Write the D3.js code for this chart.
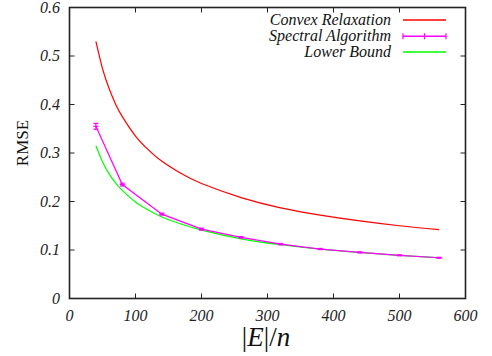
<!DOCTYPE html>
<html>
<head>
<meta charset="utf-8">
<script src="https://cdn.jsdelivr.net/npm/d3@7"></script>
<style>
  html, body { margin: 0; padding: 0; background: #fff; }
  svg { display: block; }
  svg text { font-family: "Liberation Serif", serif; }
</style>
</head>
<body>
<div id="chart"></div>
<script>
// Values
const curveX = [40, 50, 60, 70, 80, 100, 120, 140, 170, 200, 260, 320, 380, 440, 500, 560];
const convexRelaxation = [0.530, 0.474, 0.433, 0.400, 0.375, 0.335, 0.306, 0.283, 0.257, 0.237, 0.208, 0.187, 0.172, 0.160, 0.150, 0.142];
const lowerBound = [0.315, 0.282, 0.257, 0.238, 0.223, 0.199, 0.182, 0.168, 0.153, 0.141, 0.123, 0.111, 0.102, 0.095, 0.089, 0.084];

const spectralX = [40, 80, 140, 200, 260, 320, 380, 440, 500, 560];
const spectralAlgorithm = [0.355, 0.235, 0.174, 0.143, 0.126, 0.112, 0.102, 0.095, 0.089, 0.084];
const spectralErr = [0.006, 0.003, 0.002, 0.002, 0.0015, 0.0015, 0.0012, 0.0012, 0.001, 0.001];

const xTicks = [0, 100, 200, 300, 400, 500, 600];
const yTicks = [0, 0.1, 0.2, 0.3, 0.4, 0.5, 0.6];
const seriesNames = ["Convex Relaxation", "Spectral Algorithm", "Lower Bound"];

const width = 492;
const height = 356;

const plotLeft = 69.5, plotRight = 465.5, plotTop = 7.5, plotBottom = 298.5;

const red = "#ff0000";
const magenta = "#ff00ff";
const green = "#00ff00";
const frameColor = "#222";

const svg = d3.select("#chart")
  .append("svg")
  .attr("width", width)
  .attr("height", height);

const x = d3.scaleLinear().domain([0, 600]).range([plotLeft, plotRight]);
const y = d3.scaleLinear().domain([0, 0.6]).range([plotBottom, plotTop]);

// Tick marks (inward, mirrored on top/right like gnuplot)
const tickLen = 5;
xTicks.forEach(t => {
  if (t === 0 || t === 600) return;
  svg.append("line")
    .attr("x1", x(t)).attr("x2", x(t))
    .attr("y1", plotBottom).attr("y2", plotBottom - tickLen)
    .attr("stroke", frameColor).attr("stroke-width", 1);
  svg.append("line")
    .attr("x1", x(t)).attr("x2", x(t))
    .attr("y1", plotTop).attr("y2", plotTop + tickLen)
    .attr("stroke", frameColor).attr("stroke-width", 1);
});
yTicks.forEach(t => {
  if (t === 0 || t === 0.6) return;
  svg.append("line")
    .attr("x1", plotLeft).attr("x2", plotLeft + tickLen)
    .attr("y1", y(t)).attr("y2", y(t))
    .attr("stroke", frameColor).attr("stroke-width", 1);
  svg.append("line")
    .attr("x1", plotRight).attr("x2", plotRight - tickLen)
    .attr("y1", y(t)).attr("y2", y(t))
    .attr("stroke", frameColor).attr("stroke-width", 1);
});

// Frame
svg.append("rect")
  .attr("x", plotLeft).attr("y", plotTop)
  .attr("width", plotRight - plotLeft).attr("height", plotBottom - plotTop)
  .attr("fill", "none")
  .attr("stroke", frameColor)
  .attr("stroke-width", 1.6);

// Tick labels
xTicks.forEach(t => {
  svg.append("text")
    .attr("x", x(t))
    .attr("y", 321)
    .attr("text-anchor", "middle")
    .attr("font-style", "italic")
    .attr("font-size", 16)
    .attr("fill", "#222")
    .text(t);
});
yTicks.forEach(t => {
  svg.append("text")
    .attr("x", 60)
    .attr("y", y(t) + 5)
    .attr("text-anchor", "end")
    .attr("font-style", "italic")
    .attr("font-size", 16)
    .attr("fill", "#222")
    .text(t === 0 ? "0" : t.toFixed(1));
});

// Axis titles
svg.append("text")
  .attr("transform", "translate(28,143) rotate(-90)")
  .attr("text-anchor", "middle")
  .attr("font-size", 17)
  .attr("fill", "#111")
  .text("RMSE");

const xLabel = svg.append("text")
  .attr("x", 266)
  .attr("y", 346)
  .attr("text-anchor", "middle")
  .attr("font-size", 27)
  .attr("fill", "#111");
xLabel.append("tspan").text("|");
xLabel.append("tspan").attr("font-style", "italic").text("E");
xLabel.append("tspan").text("|/");
xLabel.append("tspan").attr("font-style", "italic").text("n");

// Series
const line = d3.line()
  .x(d => x(d[0]))
  .y(d => y(d[1]));

svg.append("path")
  .datum(curveX.map((v, i) => [v, convexRelaxation[i]]))
  .attr("fill", "none")
  .attr("stroke", red)
  .attr("stroke-width", 1.2)
  .attr("d", line.curve(d3.curveNatural));

svg.append("path")
  .datum(curveX.map((v, i) => [v, lowerBound[i]]))
  .attr("fill", "none")
  .attr("stroke", green)
  .attr("stroke-width", 1.2)
  .attr("d", line.curve(d3.curveNatural));

svg.append("path")
  .datum(spectralX.map((v, i) => [v, spectralAlgorithm[i]]))
  .attr("fill", "none")
  .attr("stroke", magenta)
  .attr("stroke-width", 1.2)
  .attr("d", line.curve(d3.curveLinear));

// Error bars + point marks
spectralX.forEach((v, i) => {
  const cx = x(v);
  const y1 = y(spectralAlgorithm[i] - spectralErr[i]);
  const y2 = y(spectralAlgorithm[i] + spectralErr[i]);
  const g = svg.append("g").attr("stroke", magenta).attr("stroke-width", 1.2);
  g.append("line").attr("x1", cx).attr("x2", cx).attr("y1", y1).attr("y2", y2);
  g.append("line").attr("x1", cx - 2.5).attr("x2", cx + 2.5).attr("y1", y1).attr("y2", y1);
  g.append("line").attr("x1", cx - 2.5).attr("x2", cx + 2.5).attr("y1", y2).attr("y2", y2);
  g.append("line").attr("x1", cx - 2.5).attr("x2", cx + 2.5).attr("y1", y(spectralAlgorithm[i])).attr("y2", y(spectralAlgorithm[i]));
});

// Legend
const legendColors = [red, magenta, green];
const legendY = [20, 36.3, 52];
seriesNames.forEach((name, i) => {
  svg.append("text")
    .attr("x", 391)
    .attr("y", legendY[i] + 5)
    .attr("text-anchor", "end")
    .attr("font-style", "italic")
    .attr("font-size", 16)
    .attr("fill", "#111")
    .text(name);
  svg.append("line")
    .attr("x1", 403).attr("x2", 446)
    .attr("y1", legendY[i]).attr("y2", legendY[i])
    .attr("stroke", legendColors[i])
    .attr("stroke-width", 1.4);
  if (i === 1) {
    [403, 424.5, 446].forEach(px => {
      svg.append("line")
        .attr("x1", px).attr("x2", px)
        .attr("y1", legendY[i] - 3).attr("y2", legendY[i] + 3)
        .attr("stroke", magenta)
        .attr("stroke-width", 1.2);
    });
  }
});
</script>
</body>
</html>
